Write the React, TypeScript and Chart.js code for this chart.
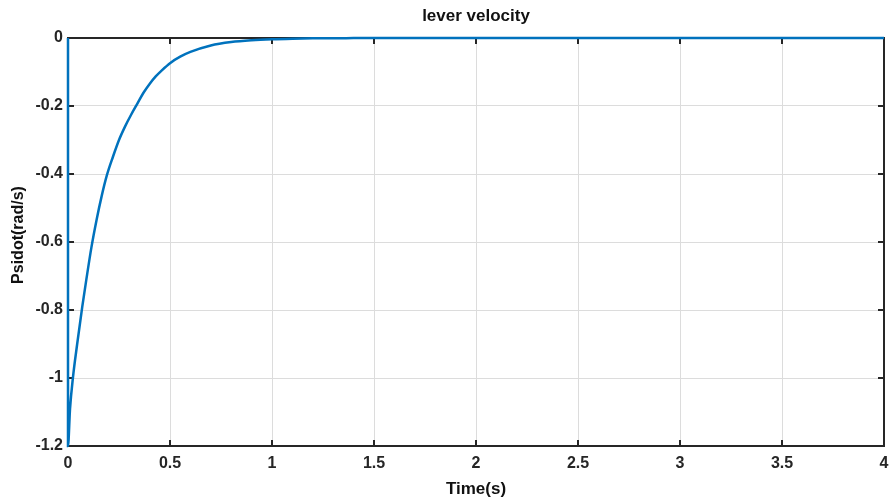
import React, { useEffect, useRef } from "react";
import { Chart, registerables } from "chart.js";

Chart.register(...registerables);

const chartTitle = "lever velocity";
const xAxisTitle = "Time(s)";
const yAxisTitle = "Psidot(rad/s)";

const timeValues = [
  0, 0, 0.01, 0.024, 0.045, 0.07, 0.09, 0.115, 0.14, 0.165, 0.19, 0.22, 0.25, 0.28,
  0.31, 0.34, 0.37, 0.4, 0.43, 0.46, 0.5, 0.55, 0.6, 0.7, 0.8, 0.9, 1.0, 1.1, 1.2,
  1.4, 1.6, 2, 2.5, 3, 3.5, 4,
];
const psidotValues = [
  0, -1.2, -1.09, -1.0, -0.9, -0.79, -0.71, -0.615, -0.535, -0.465, -0.405, -0.35,
  -0.3, -0.26, -0.225, -0.193, -0.161, -0.135, -0.113, -0.095, -0.074, -0.055,
  -0.041, -0.022, -0.012, -0.0067, -0.0037, -0.002, -0.001, -0.0003, 0, 0, 0, 0, 0, 0,
];

const xTickValues = [0, 0.5, 1, 1.5, 2, 2.5, 3, 3.5, 4];
const xTickLabels = ["0", "0.5", "1", "1.5", "2", "2.5", "3", "3.5", "4"];
const yTickValues = [-1.2, -1, -0.8, -0.6, -0.4, -0.2, 0];
const yTickLabels = ["-1.2", "-1", "-0.8", "-0.6", "-0.4", "-0.2", "0"];

const FONT = '"Liberation Sans", Arial, Helvetica, sans-serif';
const AXIS_COLOR = "#262626";

const framePlugin = {
  id: "frame",
  beforeDatasetsDraw(chart: any) {
    const { ctx, chartArea } = chart;
    const { left, right, top, bottom } = chartArea;
    const x = chart.scales.x;
    const y = chart.scales.y;
    ctx.save();
    ctx.strokeStyle = AXIS_COLOR;
    ctx.lineWidth = 2;
    ctx.strokeRect(left, top, right - left, bottom - top);
    ctx.beginPath();
    xTickValues.forEach((v) => {
      const px = x.getPixelForValue(v);
      ctx.moveTo(px, bottom);
      ctx.lineTo(px, bottom - 6);
      ctx.moveTo(px, top);
      ctx.lineTo(px, top + 6);
    });
    yTickValues.forEach((v) => {
      const py = y.getPixelForValue(v);
      ctx.moveTo(left, py);
      ctx.lineTo(left + 6, py);
      ctx.moveTo(right, py);
      ctx.lineTo(right - 6, py);
    });
    ctx.stroke();
    ctx.restore();
  },
  afterDraw(chart: any) {
    const { ctx, chartArea } = chart;
    const cx = (chartArea.left + chartArea.right) / 2;
    ctx.save();
    ctx.fillStyle = "#111111";
    ctx.textAlign = "center";
    ctx.textBaseline = "middle";
    ctx.font = `bold 17px ${FONT}`;
    ctx.fillText(chartTitle, cx, 16);
    ctx.fillText(xAxisTitle, cx, 489);
    ctx.font = `bold 16px ${FONT}`;
    ctx.translate(19, 235);
    ctx.rotate(-Math.PI / 2);
    ctx.fillText(yAxisTitle, 0, 0);
    ctx.restore();
  },
};

export default function App() {
  const canvasRef = useRef<HTMLCanvasElement | null>(null);

  useEffect(() => {
    const canvas = canvasRef.current;
    if (!canvas) return;
    const points = timeValues.map((t, i) => ({ x: t, y: psidotValues[i] }));
    const chart = new Chart(canvas, {
      type: "line",
      data: {
        datasets: [
          {
            data: points,
            borderColor: "#0072BD",
            borderWidth: 2.5,
            pointRadius: 0,
            fill: false,
            cubicInterpolationMode: "monotone",
            clip: false as any,
          },
        ],
      },
      options: {
        responsive: false,
        animation: false,
        layout: { padding: { top: 38, right: 5, left: 0, bottom: 0 } },
        plugins: {
          legend: { display: false },
          tooltip: { enabled: false },
          title: { display: false },
        },
        scales: {
          x: {
            type: "linear",
            min: 0,
            max: 4,
            afterBuildTicks: (scale: any) => {
              scale.ticks = xTickValues.map((v) => ({ value: v }));
            },
            afterFit: (scale: any) => {
              scale.height = 52;
              scale.paddingLeft = 0;
              scale.paddingRight = 0;
            },
            ticks: {
              callback: (_v: any, i: number) => xTickLabels[i],
              font: { family: FONT, size: 16, weight: "bold" },
              color: AXIS_COLOR,
              padding: 8,
              maxRotation: 0,
              autoSkip: false,
            },
            grid: { color: "#dcdcdc", lineWidth: 1, drawTicks: false },
            border: { display: false },
          },
          y: {
            type: "linear",
            min: -1.2,
            max: 0,
            afterBuildTicks: (scale: any) => {
              scale.ticks = yTickValues.map((v) => ({ value: v }));
            },
            afterFit: (scale: any) => {
              scale.width = 68;
              scale.paddingTop = 0;
              scale.paddingBottom = 0;
            },
            ticks: {
              callback: (_v: any, i: number) => yTickLabels[i],
              font: { family: FONT, size: 16, weight: "bold" },
              color: AXIS_COLOR,
              padding: 5,
              autoSkip: false,
            },
            grid: { color: "#dcdcdc", lineWidth: 1, drawTicks: false },
            border: { display: false },
          },
        },
      },
      plugins: [framePlugin],
    });
    return () => chart.destroy();
  }, []);

  return (
    <div style={{ position: "absolute", left: 0, top: 0, width: 889, height: 498, background: "#fff" }}>
      <canvas ref={canvasRef} width={889} height={498} style={{ display: "block" }} />
    </div>
  );
}
